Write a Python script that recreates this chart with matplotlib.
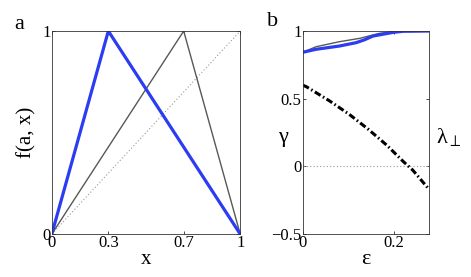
import matplotlib.pyplot as plt
import numpy as np

plt.rcParams['font.family'] = 'serif'
plt.rcParams['font.serif'] = ['Liberation Serif', 'DejaVu Serif']
plt.rcParams['mathtext.fontset'] = 'custom'
plt.rcParams['mathtext.rm'] = 'Liberation Serif'
plt.rcParams['mathtext.it'] = 'Liberation Serif'

# panel a: tent maps
x_ticks_a = [0, 0.3, 0.7, 1]
tent_blue_x = [0, 0.3, 1]
tent_blue_y = [0, 1, 0]
tent_gray_x = [0, 0.7, 1]
tent_gray_y = [0, 1, 0]

# panel b
eps_gray = [0, 0.029, 0.08, 0.125, 0.168, 0.198, 0.22, 0.277]
gamma_gray = [0.843, 0.884, 0.921, 0.946, 0.983, 0.995, 1.0, 1.0]
eps_blue = [0, 0.029, 0.08, 0.117, 0.135, 0.154, 0.198, 0.22, 0.277]
gamma_blue = [0.843, 0.865, 0.889, 0.914, 0.935, 0.963, 0.99, 0.998, 1.0]
eps_lam = [0, 0.008, 0.058, 0.102, 0.144, 0.184, 0.221, 0.241, 0.277]
lam_perp = [0.6, 0.588, 0.485, 0.384, 0.273, 0.157, 0.034, -0.027, -0.17]

blue = '#2b3cf2'
gray = '#555a55'

fig = plt.figure(figsize=(4.71, 2.77), dpi=100)
ax1 = fig.add_axes([0.110, 0.155, 0.400, 0.733])
ax2 = fig.add_axes([0.643, 0.155, 0.268, 0.733])

ax1.plot([0, 1], [0, 1], color='#999999', lw=0.8, ls=(0, (1, 2)))
ax1.plot(tent_gray_x, tent_gray_y, color=gray, lw=1)
ax1.plot(tent_blue_x, tent_blue_y, color=blue, lw=2.3)
ax1.set_xlim(0, 1)
ax1.set_ylim(0, 1)
ax1.set_xticks(x_ticks_a)
ax1.set_xticklabels(['0', '0.3', '0.7', '1'])
ax1.set_yticks([0, 1])
ax1.set_yticklabels(['0', '1'])
ax1.set_xlabel('x', fontsize=15, labelpad=-1)
ax1.set_ylabel('f(a, x)', fontsize=15, labelpad=4)
fig.text(0.030, 0.895, 'a', fontsize=16)

ax2.axhline(0, color='#999999', lw=0.8, ls=(0, (1, 2)))
ax2.plot(eps_gray, gamma_gray, color=gray, lw=1)
ax2.plot(eps_blue, gamma_blue, color=blue, lw=2.3)
ax2.plot(eps_lam, lam_perp, color='black', lw=2.2, ls=(0, (2.2, 0.9, 0.5, 0.9)))
ax2.set_xlim(0, 0.277)
ax2.set_ylim(-0.5, 1)
ax2.set_xticks([0, 0.2])
ax2.set_xticklabels(['0', '0.2'])
ax2.set_yticks([-0.5, 0, 0.5, 1])
ax2.set_yticklabels(['\u22120.5', '0', '0.5', '1'])
ax2.set_xlabel('\u03b5', fontsize=16, labelpad=-1)
fig.text(0.601, 0.505, '\u03b3', fontsize=16, ha='center', va='center')
fig.text(0.925, 0.505, '$\\mathrm{\u03bb}_{\\perp}$', fontsize=16,
         ha='left', va='center')
fig.text(0.567, 0.905, 'b', fontsize=16)

for ax in (ax1, ax2):
    ax.tick_params(direction='in', length=2, width=0.5, top=True, right=True,
                   labelsize=12, pad=1)
    for s in ax.spines.values():
        s.set_linewidth(0.6)
        s.set_color('#333333')

fig.savefig('out.png', dpi=100)
